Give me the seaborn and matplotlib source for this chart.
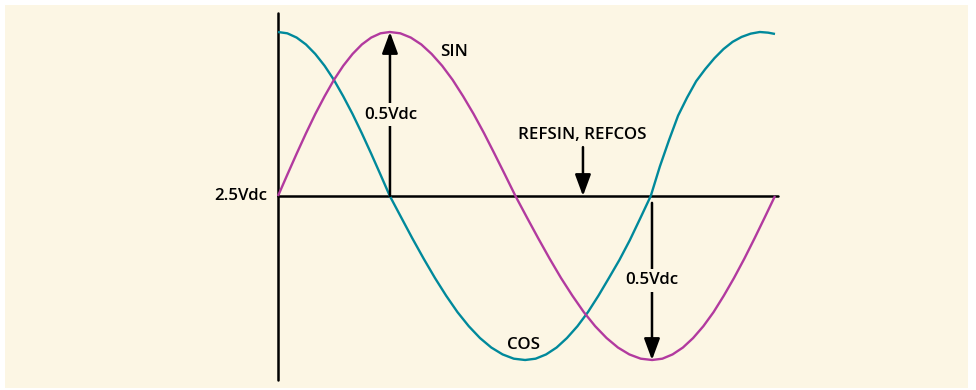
import matplotlib
matplotlib.use("Agg")
import matplotlib.pyplot as plt
import seaborn as sns
import pandas as pd
from matplotlib.patches import Rectangle

# ---- data (phase in degrees, level in volts) ----
sin_phase = [0, 6.75, 13.5, 20.25, 27, 33.75, 40.5, 47.25, 54, 60.75, 67.5, 74.25,
             81, 88.6, 96.2, 103.8, 111.3, 118.9, 126.5, 134.1, 141.7, 149.3, 156.8, 164.4,
             172, 180.25, 188.5, 196.75, 205, 213.25, 221.5, 229.75, 238, 246.25, 254.5, 262.75,
             271, 278.4, 285.8, 293.3, 300.7, 308.1, 315.5, 322.9, 330.3, 337.8, 345.2, 352.6,
             360]
sin_volts = [2.5, 2.565, 2.629, 2.691, 2.75, 2.804, 2.854, 2.897, 2.933, 2.962, 2.983, 2.996,
             3.0, 2.996, 2.983, 2.962, 2.933, 2.897, 2.854, 2.804, 2.75, 2.691, 2.629, 2.565,
             2.5, 2.435, 2.371, 2.309, 2.25, 2.196, 2.146, 2.103, 2.067, 2.038, 2.017, 2.004,
             2.0, 2.004, 2.017, 2.038, 2.067, 2.103, 2.146, 2.196, 2.25, 2.309, 2.371, 2.435,
             2.5]

cos_phase = [0, 6.75, 13.5, 20.25, 27, 33.75, 40.5, 47.25, 54, 60.75, 67.5, 74.25,
             81, 89.2, 97.3, 105.5, 113.7, 121.8, 130, 138.2, 146.3, 154.5, 162.7, 170.8,
             179, 186.6, 194.2, 201.8, 209.3, 216.9, 224.5, 232.1, 239.7, 247.3, 254.8, 262.4,
             270, 276.6, 283.2, 289.8, 296.3, 302.9, 309.5, 316.1, 322.7, 329.3, 335.8, 342.4,
             349, 355, 360]
cos_volts = [3.0, 2.996, 2.983, 2.962, 2.933, 2.897, 2.854, 2.804, 2.75, 2.691, 2.629, 2.565,
             2.5, 2.435, 2.371, 2.309, 2.25, 2.196, 2.146, 2.103, 2.067, 2.038, 2.017, 2.004,
             2.0, 2.004, 2.017, 2.038, 2.067, 2.103, 2.146, 2.196, 2.25, 2.305, 2.365, 2.432,
             2.5, 2.59, 2.67, 2.745, 2.80, 2.85, 2.887, 2.92, 2.948, 2.97, 2.985, 2.995,
             3.0, 2.998, 2.994]

ref_level = 2.5
amplitude = 0.5
ref_label = "2.5Vdc"
amp_label = "0.5Vdc"
sin_label = "SIN"
cos_label = "COS"
ref_arrow_label = "REFSIN, REFCOS"

# ---- styling ----
CREAM = "#fcf6e4"
SIN_C = "#b23a9f"
COS_C = "#00899b"
W, H = 976, 390

sns.set_theme(style="white")
plt.rcParams["font.family"] = ["Open Sans", "DejaVu Sans"]

fig = plt.figure(figsize=(W / 100, H / 100), dpi=100)
fig.patch.set_facecolor("white")
bg = Rectangle((5 / W, 2 / H), 963 / W, 383 / H, transform=fig.transFigure,
               facecolor=CREAM, edgecolor="none", zorder=-10)
fig.add_artist(bg)

# axes placed so 0..360 deg spans x px 278..775, 2.0..3.0 V spans y px 360..32
ax = fig.add_axes([278 / W, (H - 360) / H, 497 / W, 328 / H])
ax.set_zorder(1)
ax.set_xlim(0, 360)
ax.set_ylim(2.0, 3.0)
ax.axis("off")
ax.patch.set_alpha(0)

df_sin = pd.DataFrame({"phase": sin_phase, "volts": sin_volts})
df_cos = pd.DataFrame({"phase": cos_phase, "volts": cos_volts})
sns.lineplot(data=df_cos, x="phase", y="volts", color=COS_C, linewidth=1.7,
             sort=False, ax=ax, clip_on=False, zorder=3,
             solid_joinstyle="round", solid_capstyle="butt")
sns.lineplot(data=df_sin, x="phase", y="volts", color=SIN_C, linewidth=1.7,
             sort=False, ax=ax, clip_on=False, zorder=3,
             solid_joinstyle="round", solid_capstyle="butt")

# axes lines
ax.plot([0, 0], [1.939, 3.058], color="black", lw=1.8, clip_on=False, zorder=2)
ax.plot([0, 362.2], [ref_level, ref_level], color="black", lw=1.8,
        clip_on=False, zorder=2)

astyle = "-|>,head_length=1.3,head_width=0.48"
font_kw = dict(fontsize=12.2, fontweight="semibold", color="black")

# left amplitude arrow (up to SIN peak)
ax.annotate("", xy=(81.1, ref_level + amplitude), xytext=(81.1, ref_level),
            arrowprops=dict(arrowstyle=astyle, color="black", lw=1.8,
                            mutation_scale=10, shrinkA=0, shrinkB=0),
            zorder=4, annotation_clip=False)
ax.text(82.0, 2.748, amp_label, ha="center", va="center", zorder=5,
        bbox=dict(facecolor=CREAM, edgecolor="none", pad=2.5), **font_kw)

# right amplitude arrow (down to SIN trough)
ax.annotate("", xy=(270.9, ref_level - amplitude), xytext=(270.9, 2.479),
            arrowprops=dict(arrowstyle=astyle, color="black", lw=1.8,
                            mutation_scale=10, shrinkA=0, shrinkB=0),
            zorder=4, annotation_clip=False)
ax.text(270.9, 2.243, amp_label, ha="center", va="center", zorder=5,
        bbox=dict(facecolor=CREAM, edgecolor="none", pad=2.5), **font_kw)

# REFSIN/REFCOS arrow
ax.annotate("", xy=(220.9, ref_level), xytext=(220.9, 2.649),
            arrowprops=dict(arrowstyle=astyle, color="black", lw=1.8,
                            mutation_scale=10, shrinkA=0, shrinkB=0),
            zorder=4, annotation_clip=False)
ax.text(220.6, 2.686, ref_arrow_label, ha="center", va="center", zorder=5,
        **font_kw)

# labels
ax.text(-7.5, ref_level, ref_label, ha="right", va="center", zorder=5, **font_kw)
ax.text(127.8, 2.94, sin_label, ha="center", va="center", zorder=5, **font_kw)
ax.text(177.5, 2.046, cos_label, ha="center", va="center", zorder=5, **font_kw)

fig.savefig("out.png", dpi=100, facecolor="white")
